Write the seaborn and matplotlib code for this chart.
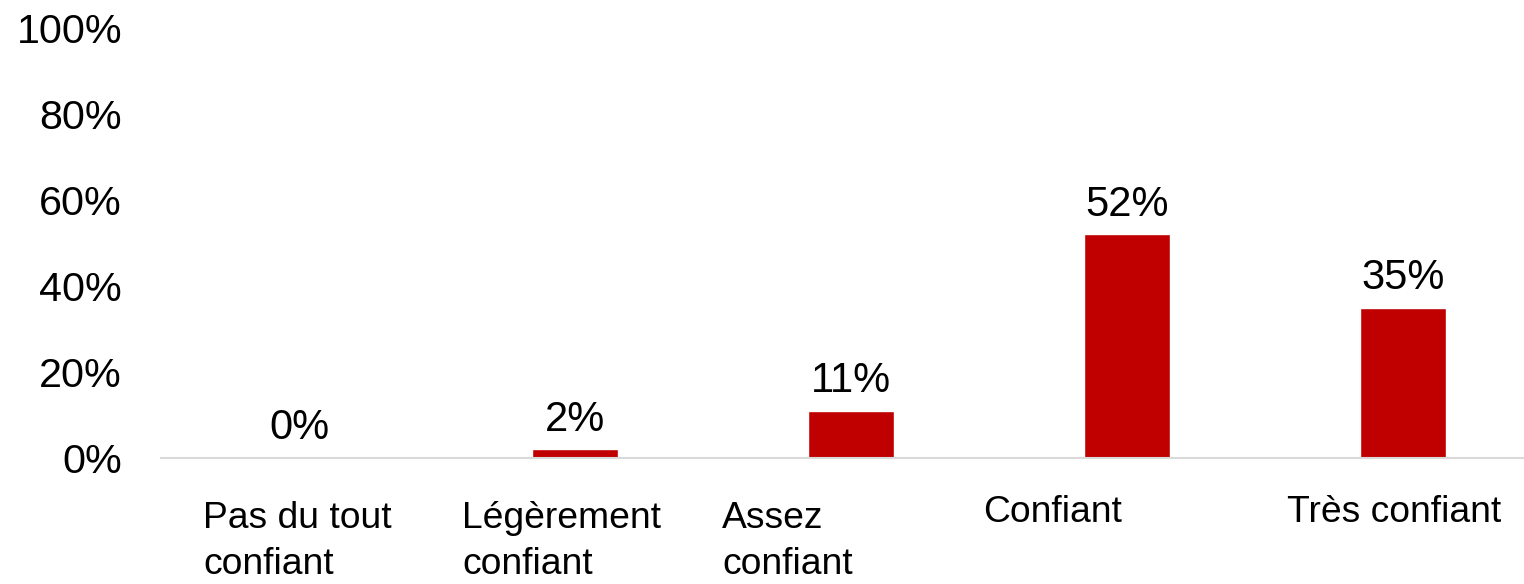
import matplotlib
matplotlib.use("Agg")
import matplotlib.pyplot as plt
import matplotlib.transforms as mtransforms
from matplotlib.ticker import FuncFormatter
import seaborn as sns
import pandas as pd

# Survey responses: share of respondents per confidence level (%)
categories = ["Pas du tout confiant", "Légèrement confiant", "Assez confiant",
              "Confiant", "Très confiant"]
label_text = ["Pas du tout\nconfiant", "Légèrement\nconfiant", "Assez\nconfiant",
              "Confiant", "Très confiant"]
values = [0, 2, 11, 52, 35]
y_ticks = [0, 20, 40, 60, 80, 100]

sns.set_theme(style="white")
plt.rcParams["font.family"] = ["Liberation Sans", "DejaVu Sans"]

W, H, DPI = 1524, 584, 100
fig = plt.figure(figsize=(W / DPI, H / DPI), dpi=DPI)
left, right, top, bottom = 161, 1524, 28, 458
ax = fig.add_axes([left / W, 1 - bottom / H, (right - left) / W, (bottom - top) / H])

df = pd.DataFrame({"cat": categories, "val": values})
sns.barplot(data=df, x="cat", y="val", color="#C00000", saturation=1,
            width=0.31, ax=ax)

ax.set_ylim(0, 100)
ax.set_xlim(-0.5, 4.438)
ax.set_yticks(y_ticks)
ax.yaxis.set_major_formatter(FuncFormatter(lambda v, _: f"{v:.0f}%"))
ax.tick_params(axis="y", labelsize=29.7, pad=28, length=0, labelcolor="black")
ax.set_xticks([])
ax.set_xlabel("")
ax.set_ylabel("")

for side in ("top", "right", "left"):
    ax.spines[side].set_visible(False)
ax.spines["bottom"].set_color("#D9D9D9")
ax.spines["bottom"].set_linewidth(1.5)

# Value labels above each bar
for container in ax.containers:
    ax.bar_label(container, labels=[f"{v}%" for v in values],
                 padding=7, fontsize=30, color="black")

# Category labels below the axis, left-aligned blocks as wrapped text
label_x = [-0.348, 0.591, 1.533, 2.478, 3.580]
trans = mtransforms.blended_transform_factory(ax.transData, fig.transFigure)
for x, txt in zip(label_x, label_text):
    y_top = 501 if "\n" in txt else 495
    ax.text(x, 1 - y_top / H, txt, transform=trans, ha="left", va="top",
            multialignment="left", fontsize=26.8, color="black",
            linespacing=1.4, clip_on=False)

fig.savefig("out.png", dpi=DPI)
